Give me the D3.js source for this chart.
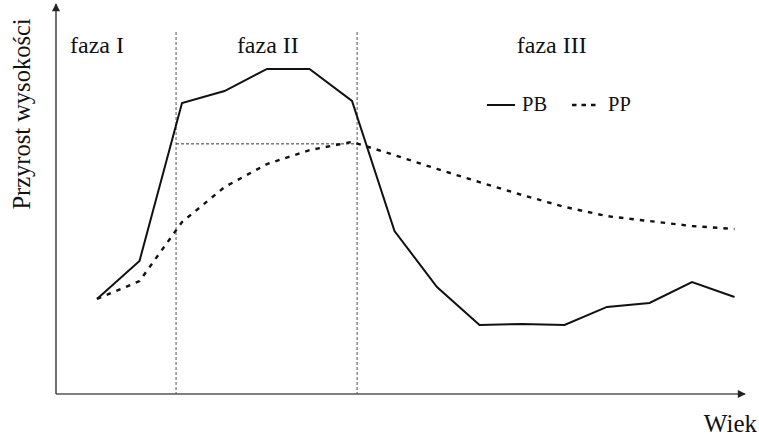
<!DOCTYPE html>
<html>
<head>
<meta charset="utf-8">
<script src="https://cdn.jsdelivr.net/npm/d3@7"></script>
<style>
  body { margin: 0; background: #fff; }
  text { font-family: "Liberation Serif", "Times New Roman", serif; fill: #111; }
</style>
</head>
<body>
<svg width="759" height="438"></svg>
<script>
// kolejne punkty wieku (jednostki umowne)
const wiek = d3.range(16);
// przyrost wysokości - PB (linia ciągła)
const pb = [28.8, 40.3, 88.2, 91.8, 98.5, 98.5, 88.8, 49.4, 32.4, 20.9, 21.2, 20.9, 26.4, 27.6, 33.9, 29.4];
// przyrost wysokości - PP (linia przerywana)
const pp = [28.8, 34.2, 52.1, 62.7, 69.7, 73.9, 76.4, 72.4, 68.2, 64.2, 60.3, 56.7, 53.9, 52.4, 50.9, 50.0];
// granice faz (w jednostkach wieku)
const granice = [1.86, 6.12];
const fazy = [
    {label: "faza I", x: 0.0},
    {label: "faza II", x: 4.02},
    {label: "faza III", x: 10.7}
];
const poziomMax = 75.8;

const svg = d3.select("svg");
const x0 = 56, y0 = 394;

const x = d3.scaleLinear().domain([0, 15]).range([97, 734.5]);
const y = d3.scaleLinear().domain([0, 100]).range([y0, 64]);

// strzałki
const defs = svg.append("defs");
defs.append("marker")
    .attr("id", "arrow")
    .attr("viewBox", "0 0 10 10")
    .attr("refX", 9).attr("refY", 5)
    .attr("markerWidth", 11).attr("markerHeight", 8)
    .attr("markerUnits", "userSpaceOnUse")
    .attr("orient", "auto")
    .append("path")
    .attr("d", "M0,0 L10,5 L0,10 Z")
    .attr("fill", "#222");

// osie
svg.append("line")
    .attr("x1", x0).attr("y1", y0).attr("x2", 745).attr("y2", y0)
    .attr("stroke", "#555").attr("stroke-width", 1.6)
    .attr("marker-end", "url(#arrow)");
svg.append("line")
    .attr("x1", x0).attr("y1", y0).attr("x2", x0).attr("y2", 4)
    .attr("stroke", "#333").attr("stroke-width", 1.4)
    .attr("marker-end", "url(#arrow)");

// granice faz
svg.selectAll(".granica")
    .data(granice)
    .enter().append("line")
    .attr("class", "granica")
    .attr("x1", d => x(d)).attr("x2", d => x(d))
    .attr("y1", 32).attr("y2", y0)
    .attr("stroke", "#555").attr("stroke-width", 1)
    .attr("stroke-dasharray", "3,2");

// pozioma linia maksimum PP
svg.append("line")
    .attr("x1", x(granice[0])).attr("x2", x(granice[1]))
    .attr("y1", y(poziomMax)).attr("y2", y(poziomMax))
    .attr("stroke", "#333").attr("stroke-width", 1)
    .attr("stroke-dasharray", "3,2");

const line = d3.line()
    .x((d, i) => x(wiek[i]))
    .y(d => y(d));

svg.append("path")
    .attr("d", line(pp))
    .attr("fill", "none")
    .attr("stroke", "#111").attr("stroke-width", 2.4)
    .attr("stroke-dasharray", "4.5,6");

svg.append("path")
    .attr("d", line(pb))
    .attr("fill", "none")
    .attr("stroke", "#111").attr("stroke-width", 2)
    .attr("stroke-linejoin", "miter");

// etykiety faz
svg.selectAll(".faza")
    .data(fazy)
    .enter().append("text")
    .attr("class", "faza")
    .attr("x", d => x(d.x))
    .attr("y", 53)
    .attr("text-anchor", "middle")
    .attr("font-size", 24)
    .text(d => d.label);

// legenda
const legenda = svg.append("g");
legenda.append("line")
    .attr("x1", 487).attr("x2", 515).attr("y1", 105).attr("y2", 105)
    .attr("stroke", "#111").attr("stroke-width", 2);
legenda.append("text").attr("x", 522).attr("y", 111).attr("font-size", 20.5).text("PB");
legenda.append("line")
    .attr("x1", 572).attr("x2", 597).attr("y1", 105).attr("y2", 105)
    .attr("stroke", "#111").attr("stroke-width", 2.4)
    .attr("stroke-dasharray", "4.5,5");
legenda.append("text").attr("x", 608).attr("y", 111).attr("font-size", 20.5).text("PP");

// opisy osi
svg.append("text")
    .attr("transform", "translate(30,114) rotate(-90)")
    .attr("text-anchor", "middle")
    .attr("font-size", 24.5)
    .text("Przyrost wysokości");
svg.append("text")
    .attr("x", 757).attr("y", 432)
    .attr("text-anchor", "end")
    .attr("font-size", 25)
    .text("Wiek");
</script>
</body>
</html>
